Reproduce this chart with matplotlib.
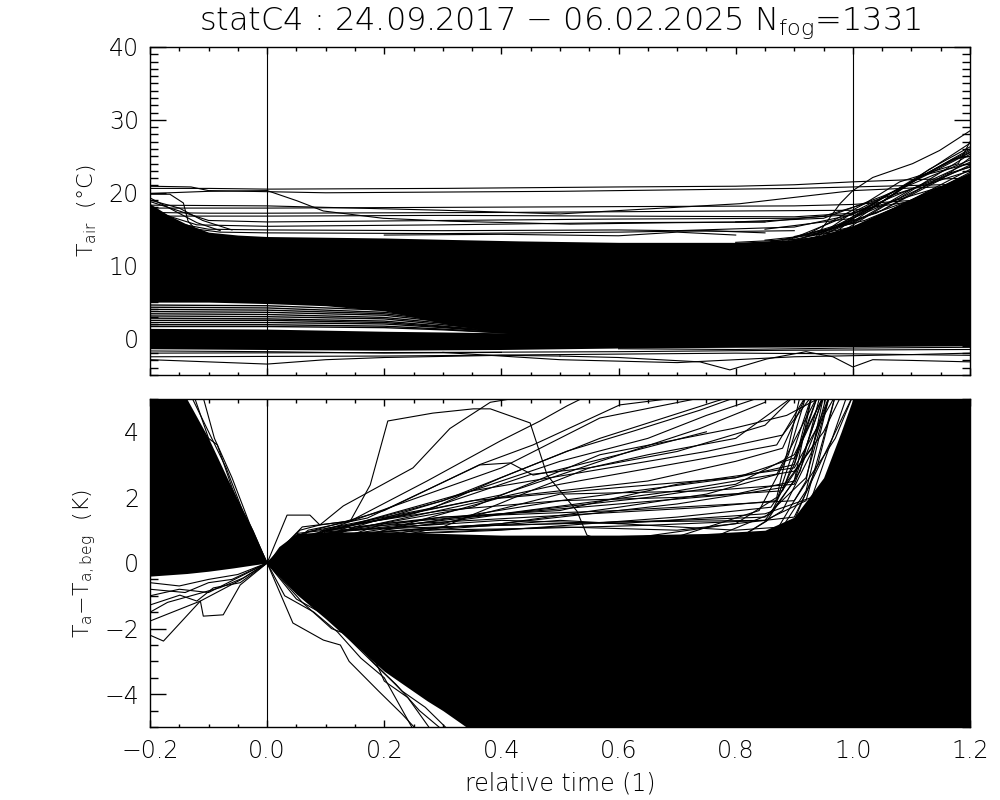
import matplotlib
matplotlib.use('Agg')
import matplotlib.pyplot as plt
from matplotlib.ticker import MultipleLocator

# ---------------- data ----------------
title_text = "statC4 : 24.09.2017 \u2212 06.02.2025 N$_{fog}$=1331"
x_ticks = [-0.2, 0.0, 0.2, 0.4, 0.6, 0.8, 1.0, 1.2]
x_tick_labels = ["\u22120.2", "0.0", "0.2", "0.4", "0.6", "0.8", "1.0", "1.2"]
top_yticks = [0, 10, 20, 30, 40]
bot_yticks = [-4, -2, 0, 2, 4]
bot_ytick_labels = ["\u22124", "\u22122", "0", "2", "4"]

# --- top panel: envelope of the dense bundle of T_air curves
top_band_x = [-0.2, -0.17, -0.14, -0.1, -0.05, 0.0, 0.1, 0.2, 0.31, 0.43, 0.6, 0.8, 0.9, 0.95, 1.0, 1.05, 1.1, 1.15, 1.2]
top_band_hi = [18.5, 17.0, 15.8, 14.6, 14.2, 14.0, 13.9, 13.8, 13.6, 13.4, 13.2, 13.2, 13.6, 14.3, 15.5, 17.3, 19.2, 21.0, 22.8]
top_band_lo = [5.0, 5.0, 5.0, 5.0, 4.9, 4.8, 4.5, 3.8, 1.9, 0.5, -0.2, -0.5, -0.5, -0.5, -0.4, -0.4, -0.4, -0.4, -0.4]
# lower dense bundle near 0 degC
top_band2_x = [-0.2, 0.0, 0.2, 0.4, 0.6, 0.8, 1.0, 1.2]
top_band2_hi = [1.4, 1.3, 1.0, 0.8, 0.0, -0.3, -0.3, -0.3]
top_band2_lo = [-1.4, -1.5, -1.6, -1.5, -1.3, -1.2, -1.1, -1.0]

# individual warm curves above the bundle
top_upper_lines = [
    ([-0.2, -0.1, 0.0, 0.3, 0.6, 0.8, 0.9, 1.0, 1.1, 1.2], [20.6, 20.6, 20.5, 20.6, 20.8, 20.9, 21.1, 21.5, 21.8, 22.0]),
    ([-0.2, -0.13, -0.1, 0.1, 0.5, 0.9, 1.0, 1.2], [20.9, 20.8, 20.3, 20.0, 20.2, 20.6, 20.8, 21.2]),
    ([-0.2, -0.166, -0.143, -0.135, -0.119, -0.1], [19.8, 19.8, 18.6, 16.1, 14.7, 14.3]),
    ([-0.2, -0.1, 0.0, 0.051, 0.096, 0.198, 0.312, 0.517, 0.7, 0.85, 0.95, 1.0, 1.1, 1.2], [19.9, 20.2, 20.3, 18.9, 17.5, 16.5, 16.1, 15.7, 15.9, 16.0, 16.8, 18.0, 20.5, 23.0]),
    ([-0.2, 0.0, 0.3, 0.5, 0.807, 1.0, 1.2], [18.3, 18.2, 17.6, 17.1, 18.5, 20.3, 21.0]),
    ([-0.2, 0.0, 0.3, 0.6, 0.9, 1.0, 1.2], [17.9, 17.9, 18.0, 18.1, 18.2, 18.4, 19.5]),
    ([-0.2, -0.1, 0.0, 0.4, 0.8, 1.0, 1.2], [17.3, 17.2, 17.2, 17.3, 17.5, 17.6, 20.0]),
    ([-0.2, 0.0, 0.3, 0.6, 0.9, 1.0, 1.2], [16.8, 16.8, 16.9, 16.8, 16.7, 17.2, 22.0]),
    ([-0.2, -0.1, 0.0, 0.3, 0.6, 0.9, 1.0], [18.8, 16.2, 16.0, 16.2, 16.4, 16.5, 17.0]),
    ([-0.2, -0.12, 0.0, 0.3, 0.6, 0.85], [17.6, 15.6, 15.4, 15.6, 15.9, 16.0]),
    ([-0.2, -0.1, 0.0, 0.3, 0.6, 0.8, 0.9], [16.5, 15.0, 14.9, 14.8, 14.9, 14.7, 14.8]),
    ([-0.2, -0.08, 0.0, 0.3, 0.6, 0.75, 0.85], [15.8, 14.6, 14.5, 14.4, 14.6, 14.8, 14.5]),
    ([0.2, 0.4, 0.6, 0.7, 0.8], [14.2, 14.3, 14.1, 14.6, 14.2]),
    ([-0.2, -0.16, -0.12, -0.08], [19.3, 17.6, 15.9, 14.8]),
    ([-0.2, -0.15, -0.11, -0.06], [19.0, 17.9, 16.2, 14.9]),
]
# curves that warm up after the end of the fog event
top_fan_lines = [
    ([0.8, 0.9, 0.932, 0.978, 1.0, 1.034, 1.102, 1.148, 1.2], [13.0, 13.0, 13.4, 18.5, 20.3, 22.1, 24.0, 25.8, 28.5]),
    ([0.8, 0.95, 0.966, 1.024, 1.08, 1.137, 1.2], [13.2, 13.8, 14.3, 17.9, 20.7, 23.5, 26.8]),
    ([0.85, 1.0, 1.08, 1.2], [15.0, 16.5, 19.3, 25.3]),
    ([0.7, 0.9, 1.0, 1.1, 1.2], [14.8, 15.3, 17.0, 21.5, 25.8]),
    ([0.8, 0.95, 1.05, 1.2], [16.0, 16.5, 19.5, 24.5]),
    ([0.85, 0.98, 1.06, 1.2], [13.5, 14.6, 18.5, 23.8]),
    ([0.9, 1.0, 1.1, 1.2], [14.0, 15.8, 20.5, 24.2]),
    ([0.88, 1.02, 1.12, 1.2], [13.5, 16.2, 19.5, 22.8]),
    ([0.9, 1.04, 1.15, 1.2], [13.8, 17.2, 21.8, 24.8]),
    ([0.95, 1.03, 1.1, 1.2], [14.3, 17.0, 19.0, 23.2]),
    ([0.92, 1.0, 1.09, 1.2], [14.0, 16.0, 21.0, 26.0]),
    ([0.9, 1.01, 1.13, 1.2], [13.6, 15.5, 20.2, 22.0]),
    ([0.93, 1.05, 1.16, 1.2], [14.1, 17.6, 22.6, 23.5]),
    ([0.9, 0.97, 1.06, 1.14, 1.2], [13.4, 15.2, 19.8, 23.0, 25.5]),
    ([0.94, 1.0, 1.07, 1.17, 1.2], [14.0, 17.3, 20.2, 24.6, 25.0]),
    ([0.86, 0.96, 1.04, 1.12, 1.2], [13.3, 14.8, 18.2, 22.4, 24.0]),
    ([0.92, 1.02, 1.08, 1.18, 1.2], [14.2, 18.5, 21.5, 24.0, 27.0]),
    ([0.96, 1.05, 1.11, 1.19, 1.2], [14.6, 18.8, 22.0, 25.2, 25.6]),
    ([0.89, 0.99, 1.09, 1.2], [13.5, 16.8, 20.2, 23.6]),
    ([0.95, 1.06, 1.13, 1.2], [14.6, 19.2, 23.2, 26.3]),
]
# cool curves in the gap between the two dense bundles
top_mid_lines = [
    ([-0.2, 0.0, 0.2, 0.3, 0.4, 0.5], [4.6, 4.5, 3.9, 3.0, 2.0, 0.3]),
    ([-0.2, 0.0, 0.2, 0.3, 0.4, 0.5], [4.3, 4.2, 3.6, 2.7, 1.7, 0.3]),
    ([-0.2, 0.0, 0.2, 0.3, 0.4, 0.5], [4.0, 3.9, 3.4, 2.5, 1.5, 0.3]),
    ([-0.2, 0.0, 0.2, 0.3, 0.4, 0.5], [3.7, 3.6, 3.2, 2.3, 1.3, 0.3]),
    ([-0.2, 0.0, 0.2, 0.3, 0.4, 0.5], [3.4, 3.3, 2.9, 2.1, 1.2, 0.3]),
    ([-0.2, 0.0, 0.2, 0.3, 0.4, 0.5], [3.1, 3.0, 2.7, 1.9, 1.1, 0.3]),
    ([-0.2, 0.0, 0.2, 0.3, 0.4, 0.5], [2.8, 2.7, 2.4, 1.7, 1.0, 0.3]),
    ([-0.2, 0.0, 0.2, 0.3, 0.4, 0.5], [2.5, 2.5, 2.2, 1.6, 0.9, 0.3]),
    ([-0.2, 0.0, 0.2, 0.3, 0.4, 0.5], [2.2, 2.2, 2.0, 1.5, 0.9, 0.3]),
    ([-0.2, 0.0, 0.2, 0.3, 0.4, 0.5], [1.9, 1.9, 1.7, 1.3, 0.8, 0.3]),
    ([-0.2, 0.0, 0.2, 0.3, 0.4, 0.5], [1.65, 1.65, 1.5, 1.2, 0.8, 0.3]),
]
# coldest curves below the lower bundle
top_low_lines = [
    ([0.5, 0.6, 0.739, 0.79, 0.853, 0.92, 0.966, 1.0, 1.034, 1.1, 1.2], [-2.4, -2.6, -3.2, -4.3, -2.8, -1.8, -2.5, -3.9, -2.9, -3.0, -3.2]),
    ([-0.2, -0.1, 0.0, 0.1, 0.2, 0.4, 0.5], [-2.9, -3.2, -3.5, -2.9, -2.6, -2.3, -2.4]),
    ([-0.2, 0.2, 0.5, 0.8, 1.0, 1.2], [-2.5, -2.4, -2.2, -2.0, -2.1, -2.3]),
    ([-0.2, 0.3, 0.6, 0.9, 1.2], [-2.0, -1.9, -1.8, -1.6, -1.5]),
    ([0.3, 0.5, 0.7, 0.9, 1.1, 1.2], [-1.9, -2.9, -3.3, -2.5, -2.2, -2.0]),
    ([-0.2, 0.0, 0.2, 0.4], [-1.7, -1.8, -2.0, -1.9]),
    ([0.6, 0.8, 1.0, 1.2], [-1.4, -1.5, -1.3, -1.2]),
]

# --- bottom panel: envelope of the dense bundle of T_a - T_a,beg curves
bot_band_x = [-0.2, -0.137, -0.1, -0.058, -0.024, 0.0, 0.02, 0.05, 0.1, 0.2, 0.273, 0.3, 0.34, 0.4, 0.6, 0.75, 0.85, 0.9, 0.95, 0.98, 1.0, 1.1, 1.2]
bot_band_hi = [5.0, 5.0, 3.8, 2.2, 1.0, 0.0, 0.5, 0.9, 0.95, 0.95, 0.9, 0.9, 0.88, 0.85, 0.85, 0.9, 1.0, 1.4, 2.6, 4.0, 5.0, 5.0, 5.0]
bot_band_lo = [-0.4, -0.32, -0.25, -0.15, -0.06, 0.0, -0.4, -0.95, -1.7, -3.3, -4.2, -4.5, -5.0, -5.0, -5.0, -5.0, -5.0, -5.0, -5.0, -5.0, -5.0, -5.0, -5.0]

# curves warming during the fog event
bot_fan_lines = [
    ([0, 0.034, 0.056, 0.073, 0.09, 0.142, 0.176, 0.206, 0.283, 0.352, 0.381, 0.449, 0.478, 0.529, 0.546, 0.6], [0, 1.46, 1.46, 1.46, 1.16, 1.28, 2.38, 4.33, 4.57, 4.7, 4.7, 4.27, 2.68, 1.58, 0.85, 0.5]),
    ([0, 0.056, 0.09, 0.13, 0.249, 0.312, 0.381, 0.415, 0.45], [0, 1.0, 1.16, 1.74, 2.9, 4.1, 4.9, 5.0, 5.2]),
    ([0, 0.06, 0.142, 0.273, 0.398, 0.466, 0.512, 0.539, 0.56], [0, 1.1, 1.28, 2.5, 3.72, 4.33, 4.79, 5.03, 5.2]),
    ([0, 0.07, 0.171, 0.363, 0.415, 0.454, 0.488, 0.6, 0.75], [0, 1.0, 1.37, 2.99, 3.05, 2.68, 2.8, 3.3, 4.0]),
    ([0, 0.06, 0.2, 0.363, 0.454, 0.602, 0.683, 0.7], [0, 0.9, 1.6, 3.0, 3.6, 4.82, 5.0, 5.1]),
    ([0, 0.07, 0.283, 0.398, 0.512, 0.625, 0.739, 0.8], [0, 0.95, 1.68, 2.59, 3.41, 4.02, 4.66, 5.05]),
    ([0, 0.08, 0.398, 0.568, 0.739, 0.85], [0, 0.9, 2.07, 3.1, 4.1, 4.9]),
    ([0, 0.1, 0.3, 0.568, 0.768, 0.8], [0, 0.95, 1.9, 3.8, 4.94, 5.1]),
    ([0, 0.1, 0.35, 0.568, 0.795, 0.887, 0.95], [0, 0.9, 1.7, 3.3, 4.1, 4.5, 5.1]),
    ([0, 0.1, 0.4, 0.568, 0.739, 0.8], [0, 1.0, 2.9, 4.42, 5.03, 5.2]),
    ([0, 0.1, 0.4, 0.7, 0.9, 0.95, 0.98], [0, 0.9, 1.5, 2.2, 2.8, 4.0, 5.1]),
    ([0, 0.1, 0.4, 0.7, 0.88, 0.93, 0.96], [0, 0.85, 1.2, 1.8, 2.3, 3.5, 5.1]),
    ([0, 0.12, 0.4, 0.7, 0.86, 0.91, 0.95], [0, 0.8, 1.0, 1.4, 1.7, 3.0, 5.1]),
    ([0, 0.1, 0.5, 0.75, 0.87, 0.92], [0, 0.85, 2.4, 3.2, 3.6, 5.1]),
    ([0, 0.15, 0.5, 0.8, 0.9, 0.94], [0, 0.9, 1.9, 2.6, 3.0, 5.1]),
    ([0, 0.1, 0.3, 0.6, 0.85, 0.9, 0.93], [0, 0.8, 1.1, 1.25, 1.3, 2.5, 5.1]),
    ([0, 0.2, 0.5, 0.8, 0.88, 0.92, 0.96], [0, 0.9, 1.3, 1.0, 1.1, 2.2, 5.1]),
    ([0, 0.1, 0.25, 0.45, 0.55, 0.7, 0.85, 0.9], [0, 1.0, 1.5, 2.7, 2.9, 3.4, 4.2, 5.1]),
    ([0, 0.15, 0.35, 0.55, 0.75, 0.88, 0.93], [0, 1.2, 2.2, 2.8, 3.4, 3.9, 5.1]),
    ([0, 0.2, 0.45, 0.65, 0.8, 0.9, 0.95], [0, 1.0, 1.6, 2.0, 2.4, 3.3, 5.1]),
    ([0, 0.1, 0.3, 0.5, 0.7, 0.9, 1.0], [0, 0.8, 0.95, 1.1, 1.0, 1.4, 5.1]),
    ([0, 0.15, 0.3, 0.5, 0.65, 0.75, 0.85], [0, 1.1, 1.9, 3.1, 3.8, 4.5, 5.1]),
    ([0, 0.1, 0.3, 0.6, 0.9, 0.97, 1.0], [0, 0.9, 1.4, 1.6, 1.9, 3.8, 5.1]),
    ([0, 0.2, 0.4, 0.6, 0.75, 0.87, 0.94], [0, 0.95, 1.2, 1.7, 2.1, 2.7, 5.1]),
    ([0, 0.3, 0.45, 0.55, 0.65, 0.8, 0.9], [0, 1.1, 2.2, 2.9, 3.3, 3.8, 5.1]),
    ([0, 0.1, 0.3, 0.5, 0.7, 0.85, 0.92, 0.96], [0, 1.0, 1.1, 1.2, 1.3, 1.4, 2.6, 5.1]),
    ([0, 0.15, 0.35, 0.55, 0.75, 0.87, 0.93], [0, 1.1, 1.3, 1.5, 1.7, 1.9, 5.1]),
    ([0, 0.2, 0.4, 0.6, 0.8, 0.9, 0.95], [0, 1.2, 1.5, 1.8, 2.1, 2.5, 5.1]),
    ([0, 0.1, 0.3, 0.5, 0.7, 0.88, 0.94], [0, 1.05, 1.6, 1.9, 2.0, 2.2, 5.1]),
    ([0, 0.25, 0.45, 0.65, 0.85, 0.92, 0.97], [0, 1.0, 1.05, 1.15, 1.3, 1.9, 5.1]),
    ([0.05, 0.3, 0.5, 0.7, 0.9, 0.97], [0.9, 1.4, 1.6, 2.4, 2.9, 5.1]),
    ([0.1, 0.35, 0.6, 0.8, 0.9, 0.95], [1.0, 1.9, 2.3, 2.6, 3.2, 5.1]),
    ([0.1, 0.4, 0.6, 0.85, 0.93, 0.99], [0.95, 1.3, 1.2, 1.5, 2.0, 5.1]),
    ([0.2, 0.4, 0.65, 0.8, 0.88, 0.92], [1.0, 2.0, 2.5, 3.1, 3.5, 5.1]),
    ([0.15, 0.3, 0.5, 0.75, 0.9, 0.96], [1.0, 1.2, 2.1, 2.2, 2.4, 5.1]),
    ([0.8, 0.853, 0.91, 0.944], [0.7, 1.28, 2.8, 5.1]),
    ([0.8, 0.87, 0.92, 0.95], [0.8, 1.0, 2.5, 5.1]),
    ([0.82, 0.9, 0.94, 0.97], [0.7, 1.3, 3.0, 5.1]),
    ([0.75, 0.86, 0.9, 0.93], [0.7, 1.5, 3.0, 5.1]),
    ([0.8, 0.88, 0.93, 0.955], [0.7, 1.6, 3.4, 5.1]),
    ([0.7, 0.84, 0.89, 0.92], [0.8, 1.6, 3.3, 5.1]),
    ([0.6, 0.8, 0.87, 0.91], [0.7, 1.2, 2.0, 5.1]),
]
# curves before fog onset (x < 0)
bot_left_lines = [
    ([-0.2, -0.177, -0.114, -0.046, 0], [-2.2, -2.38, -1.16, -0.52, 0]),
    ([-0.2, -0.114, -0.109, -0.075, -0.046, 0], [-1.77, -1.16, -1.62, -1.58, -0.67, 0]),
    ([-0.2, -0.149, -0.12, -0.092, -0.046, 0], [-1.28, -0.98, -1.16, -0.76, -0.6, 0]),
    ([-0.2, -0.15, -0.1, -0.05, 0], [-1.0, -0.8, -0.9, -0.45, 0]),
    ([-0.2, -0.17, -0.13, -0.08, -0.04, 0], [-1.5, -1.2, -1.0, -0.75, -0.45, 0]),
    ([-0.2, -0.14, -0.1, -0.06, 0], [-0.8, -0.9, -0.6, -0.5, 0]),
    ([-0.2, -0.15, -0.1, -0.05, 0], [-0.6, -0.7, -0.5, -0.35, 0]),
    ([-0.13, -0.1, -0.07, -0.04, 0], [5.1, 4.0, 2.9, 1.5, 0]),
    ([-0.11, -0.09, -0.06, -0.03, 0], [5.1, 3.8, 2.6, 1.2, 0]),
    ([-0.125, -0.1, -0.085, -0.06, -0.03, 0], [5.1, 3.8, 3.6, 2.3, 1.0, 0]),
]
# strongly cooling curves after fog onset
bot_cool_lines = [
    ([0, 0.044, 0.096, 0.125, 0.14, 0.19, 0.23, 0.256], [0, -1.83, -2.35, -2.5, -3.0, -3.9, -4.6, -5.1]),
    ([0, 0.03, 0.08, 0.12, 0.16, 0.2, 0.25], [0, -1.0, -1.5, -2.1, -2.9, -3.5, -5.1]),
    ([0, 0.05, 0.1, 0.15, 0.19, 0.22, 0.26, 0.3], [0, -1.1, -1.6, -2.5, -3.2, -3.7, -4.5, -5.1]),
    ([0, 0.06, 0.11, 0.17, 0.2, 0.24, 0.28], [0, -1.2, -2.0, -2.4, -3.6, -4.1, -5.1]),
    ([0, 0.05, 0.12, 0.18, 0.23, 0.27, 0.31], [0, -0.9, -1.8, -3.0, -3.9, -4.4, -5.1]),
]

# ---------------- figure ----------------
plt.rcParams['font.family'] = ['DejaVu Sans']
plt.rcParams['font.weight'] = 200
plt.rcParams['mathtext.fontset'] = 'custom'
plt.rcParams['mathtext.rm'] = 'DejaVu Sans:weight=ultralight'
plt.rcParams['mathtext.it'] = 'DejaVu Sans:weight=ultralight'
plt.rcParams['mathtext.bf'] = 'DejaVu Sans:bold'
plt.rcParams['mathtext.default'] = 'regular'
LW = 0.8
PX = 0.72  # points per pixel at dpi 100

fig = plt.figure(figsize=(10, 8), dpi=100)
ax1 = fig.add_axes([0.15, 1 - 375 / 800, 0.82, 328 / 800])
ax2 = fig.add_axes([0.15, 1 - 727 / 800, 0.82, 328 / 800])

# top panel
ax1.fill_between(top_band_x, top_band_lo, top_band_hi, color='black', lw=0)
ax1.fill_between(top_band2_x, top_band2_lo, top_band2_hi, color='black', lw=0)
for group in (top_upper_lines, top_fan_lines, top_low_lines):
    for xs, ys in group:
        ax1.plot(xs, ys, color='black', lw=LW)
for xs, ys in top_mid_lines:
    ax1.plot(xs, ys, color='black', lw=1.0)
ax1.axvline(0.0, color='black', lw=LW)
ax1.axvline(1.0, color='black', lw=LW)
ax1.set_xlim(-0.2, 1.2)
ax1.set_ylim(-5, 40)
ax1.set_yticks(top_yticks)
ax1.yaxis.set_minor_locator(MultipleLocator(1))

# bottom panel
ax2.fill_between(bot_band_x, bot_band_lo, bot_band_hi, color='black', lw=0)
for group in (bot_fan_lines, bot_left_lines, bot_cool_lines):
    for xs, ys in group:
        ax2.plot(xs, ys, color='black', lw=LW)
ax2.axvline(0.0, color='black', lw=LW)
ax2.axvline(1.0, color='black', lw=LW)
ax2.set_xlim(-0.2, 1.2)
ax2.set_ylim(-5, 5)
ax2.set_yticks(bot_yticks)
ax2.set_yticklabels(bot_ytick_labels)
ax2.yaxis.set_minor_locator(MultipleLocator(0.5))

for ax in (ax1, ax2):
    ax.set_xticks(x_ticks)
    ax.xaxis.set_minor_locator(MultipleLocator(0.05))
    for s in ax.spines.values():
        s.set_linewidth(1.0)
    ax.tick_params(axis='both', which='both', direction='in', top=True, right=True,
                   colors='black', labelsize=17)
    ax.tick_params(axis='y', which='major', length=16 * PX, width=1.0, pad=11 * PX)
    ax.tick_params(axis='y', which='minor', length=8 * PX, width=1.0)
    ax.tick_params(axis='x', which='major', length=7 * PX, width=1.0, pad=12 * PX)
    ax.tick_params(axis='x', which='minor', length=3.5 * PX, width=1.0)

ax1.tick_params(axis='x', labelbottom=False)
ax2.set_xticklabels(x_tick_labels)
for ax in (ax1, ax2):
    for lab in ax.get_xticklabels() + ax.get_yticklabels():
        lab.set_fontweight(200)

fig.text(0.56, 1 - 24 / 800, title_text, ha='center', va='center', fontsize=23, fontweight=200)
fig.text(87 / 1000, 1 - 211 / 800, "T$_{air}$  (\u00b0C)", rotation=90,
         ha='center', va='center', fontsize=16, fontweight=200)
fig.text(85 / 1000, 1 - 563 / 800, "T$_a$\u2212T$_{a,beg}$  (K)", rotation=90,
         ha='center', va='center', fontsize=16, fontweight=200)
fig.text(0.56, 1 - 784 / 800, "relative time (1)", ha='center', va='center', fontsize=17, fontweight=200)

fig.savefig('out.png', dpi=100, facecolor='white')
